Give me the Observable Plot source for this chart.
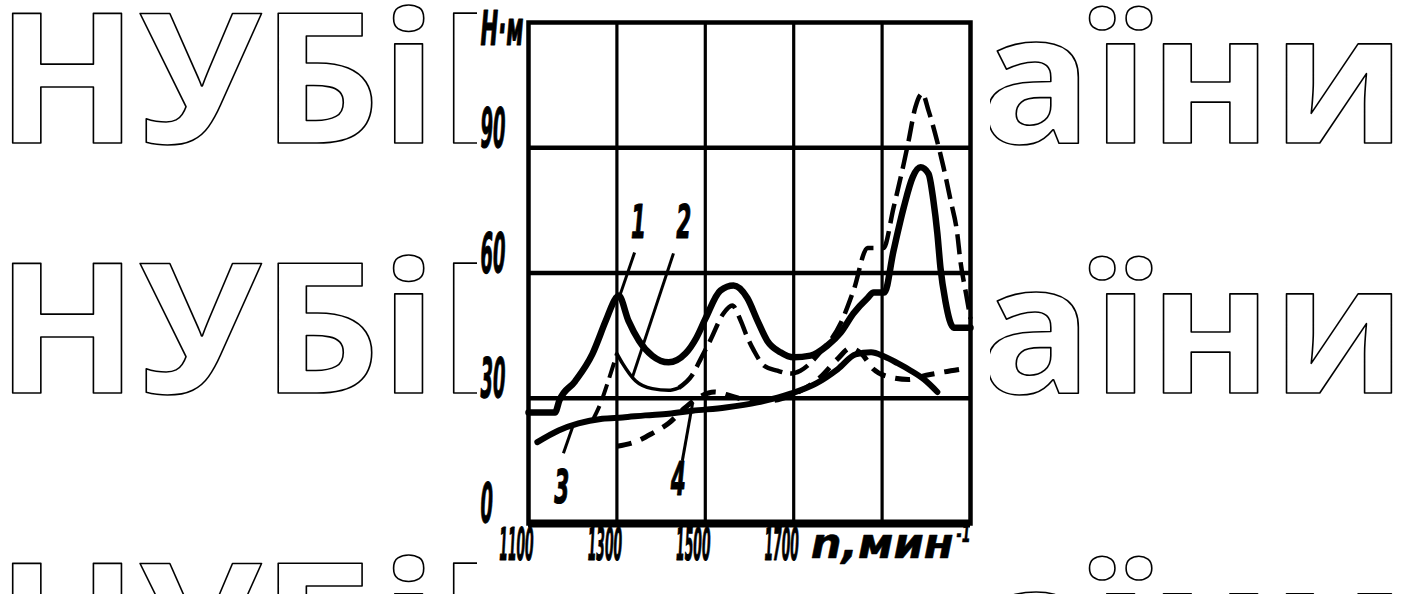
<!DOCTYPE html>
<html><head><meta charset="utf-8">
<script src="https://cdn.jsdelivr.net/npm/d3@7"></script>
<script src="https://cdn.jsdelivr.net/npm/@observablehq/plot@0.6"></script>
<style>html,body{margin:0;padding:0;background:#fff;overflow:hidden}#chart svg{display:block}</style>
</head><body><div id="chart"></div>
<script>
// ---- tick labels / categories ----
const xTickValues = [1100, 1300, 1500, 1700];
const xGridValues = [1300, 1500, 1700, 1900];
const yTickValues = [0, 30, 60, 90];
const yGridValues = [30, 60, 90];
const yUnit = "Н·м";
const xUnit = "n,мин";
const xUnitExp = "-1";
const watermarkText = "НУБіП України";

// ---- curve 1 (thick solid) ----
const curve1Rpm = [1100,1160,1170,1205,1245,1275,1297,1304,1326,1350,1380,1417,1455,1480,1500,1534,1564,1595,1618,1640,1670,1700,1738,1776,1806,1835,1867,1881,1905,1926,1949,1969,1987,2005,2016,2025,2032,2043,2062,2100];
const curve1Torque = [26.6,26.6,29.5,34,40.7,48.6,53.9,54.6,48.6,43.8,40.2,38.6,40.7,44.5,49,55.8,57,54,48.6,43.8,41,39.8,40.2,42.6,45.7,50.3,54,55.3,55.3,65.4,75.7,82.9,85.3,83.8,77.4,69.5,61.3,53.4,46.9,46.9];

// ---- curve 2 (dashed, thin solid section after the 1300 peak) ----
const curve2aRpm = [1245,1262,1280,1300];
const curve2aTorque = [24.7,28.5,34,40.7];
const curve2bRpm = [1300,1313,1342,1380,1417,1440];
const curve2bTorque = [40.7,38.3,34.2,32.3,31.9,32.5];
const curve2cRpm = [1440,1470,1490,1511,1541,1561,1580,1595,1610,1633,1663,1693,1715,1760,1806,1836,1867,1903,1926,1949,1960,1975,1991,2005,2020,2039,2055,2070,2077,2090,2100];
const curve2cTorque = [32.5,35.5,39.5,43.8,50.3,52.2,48.6,44.6,41.4,37.8,36.6,35.9,36.6,41,47.9,56,66,66,75.7,86.2,91.7,99.6,103,98.9,93.4,85.3,77.4,69.5,63,55,49];

// ---- curve 3 (thick solid) ----
const curve3Rpm = [1120,1168,1213,1267,1313,1364,1417,1471,1546,1618,1693,1750,1800,1840,1875,1905,1935,1965,1995,2025];
const curve3Torque = [19.5,22.3,24,25.1,25.4,25.9,26.3,27,27.8,29,31.1,33.5,37,40.5,41,40,38.4,36.6,34.5,31.5];

// ---- curve 4 (dashed) ----
const curve4Rpm = [1300,1340,1380,1417,1455,1490,1520,1560,1600,1650,1700,1760,1800,1828,1855,1880,1920,1960,2000,2040,2080];
const curve4Torque = [18.5,19.5,21.6,24,27.8,30.5,31.5,30.5,29.5,29.5,31,35,39.5,42,40.5,37,35,34.5,35.5,36.3,37];

// ---- curve labels and leader lines (data coordinates) ----
const curveLabels = ["1", "2", "3", "4"];
const labelRpm = [1349, 1451, 1175, 1439];
const labelTorque = [72, 72, 8.4, 10.3];
const leaderFromRpm = [1340, 1428, 1179, 1448];
const leaderFromTorque = [64.9, 64.7, 16.8, 15];
const leaderToRpm = [1306, 1335, 1200, 1471];
const leaderToTorque = [54.4, 35, 23.2, 28.7];

const pts = (xs, ys) => xs.map((x, i) => ({x, y: ys[i]}));
const FONT = "DejaVu Sans";
const ink = "#000";

const lineOpts = (w, dash) => ({x: "x", y: "y", curve: "monotone-x", stroke: ink, strokeWidth: w,
  strokeLinecap: dash ? "butt" : "round", strokeLinejoin: "round", strokeDasharray: dash});

const labelsData = curveLabels.map((t, i) => ({t, x: labelRpm[i], y: labelTorque[i]}));
const leaders = curveLabels.map((t, i) => ({x1: leaderFromRpm[i], y1: leaderFromTorque[i], x2: leaderToRpm[i], y2: leaderToTorque[i]}));
const txt = {fontFamily: FONT, fontStyle: "italic", fontWeight: "bold", fill: ink, stroke: ink, strokeWidth: 1.2};

const plot = Plot.plot({
  width: 1411, height: 594,
  marginLeft: 528, marginRight: 441, marginTop: 22, marginBottom: 71,
  x: {domain: [1100, 2100], axis: null},
  y: {domain: [0, 120], axis: null},
  style: {background: "transparent", overflow: "visible"},
  marks: [
    Plot.ruleX(xGridValues, {stroke: ink, strokeWidth: 3.2}),
    Plot.ruleY(yGridValues, {stroke: ink, strokeWidth: 4.5}),
    Plot.frame({stroke: ink, strokeWidth: 4.5}),
    Plot.ruleY([0], {stroke: ink, strokeWidth: 8}),
    Plot.line(pts(curve3Rpm, curve3Torque), lineOpts(6)),
    Plot.line(pts(curve4Rpm, curve4Torque), lineOpts(5, "15,10")),
    Plot.line(pts(curve2aRpm, curve2aTorque), lineOpts(4, "16,7")),
    Plot.line(pts(curve2bRpm, curve2bTorque), lineOpts(3.5)),
    Plot.line(pts(curve2cRpm, curve2cTorque), lineOpts(4.5, "20,8")),
    Plot.line(pts(curve1Rpm, curve1Torque), lineOpts(6.5)),
    Plot.link(leaders, {x1: "x1", y1: "y1", x2: "x2", y2: "y2", stroke: ink, strokeWidth: 3}),
    Plot.text(labelsData, {x: "x", y: "y", text: "t", fontSize: 46, ...txt}),
    Plot.text(yTickValues, {x: 1100, y: d => d, text: d => String(d), dx: -48, dy: -19, textAnchor: "start", fontSize: 56, ...txt}),
    Plot.text([yUnit], {x: 1100, y: 120, text: d => d, dx: -48, dy: 7, textAnchor: "start", fontSize: 48, ...txt}),
    Plot.text(xTickValues, {x: d => d, y: 0, text: d => String(d), dx: -12, dy: 22, fontSize: 44, ...txt}),
    Plot.text([xUnit], {x: 1700, y: 0, text: d => d, dx: 17, dy: 21, textAnchor: "start", fontSize: 42, ...txt, strokeWidth: 0.6}),
    Plot.text([xUnitExp], {x: 2100, y: 0, text: d => d, dx: -14, dy: 11, textAnchor: "start", fontSize: 24, ...txt, strokeWidth: 0.6})
  ]
});

document.getElementById("chart").appendChild(plot);

// condensed drafting-style lettering: target widths by text role
const ySet = new Set(yTickValues.map(String));
const xSet = new Set(xTickValues.map(String));
const lblSet = new Set(curveLabels);
const svg = d3.select(plot);
svg.selectAll("text").each(function() {
  const t = this.textContent;
  let w = null;
  if (ySet.has(t)) w = t.length * 12.5;
  else if (xSet.has(t)) w = t.length * 8.6;
  else if (lblSet.has(t)) w = 15;
  else if (t === yUnit) w = 43;
  else if (t === xUnit) w = 143;
  else if (t === xUnitExp) w = 14;
  if (w != null) {
    this.setAttribute("textLength", w);
    this.setAttribute("lengthAdjust", "spacingAndGlyphs");
  }
});

// background watermark (outlined text rows), then the scanned figure area in white
const bg = svg.insert("g", ":first-child").attr("text-anchor", "start");
[143, 393, 693].forEach(base => {
  bg.append("text")
    .attr("x", -4).attr("y", base)
    .attr("text-anchor", "start")
    .attr("textLength", 1410).attr("lengthAdjust", "spacingAndGlyphs")
    .attr("font-family", "Open Sans").attr("font-weight", 700).attr("font-size", 182)
    .attr("fill", "none").attr("stroke", ink).attr("stroke-width", 1.6).attr("stroke-linejoin", "round")
    .text(watermarkText);
});
bg.append("rect").attr("x", 477).attr("y", 0).attr("width", 513).attr("height", 594).attr("fill", "#fff");
</script>
</body></html>
